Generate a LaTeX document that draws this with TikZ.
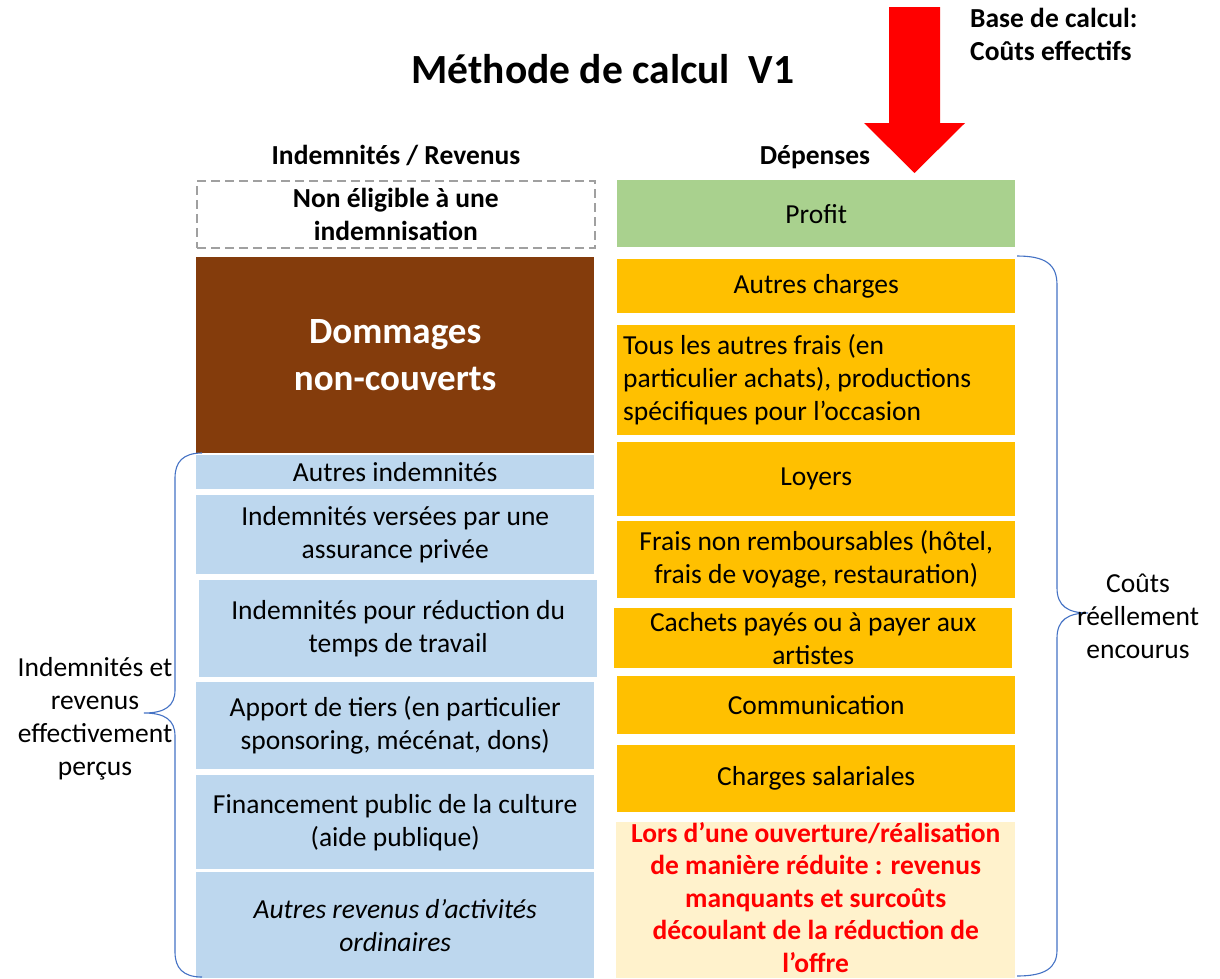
\documentclass[tikz,border=0pt]{standalone}
\usepackage{fontspec}
\setmainfont{Carlito}
\definecolor{cblue}{HTML}{BDD7EE}
\definecolor{corange}{HTML}{FFC000}
\definecolor{cgreen}{HTML}{A9D18E}
\definecolor{clight}{HTML}{FFF2CC}
\definecolor{cbrown}{HTML}{843C0C}
\definecolor{cbrace}{HTML}{4472C4}
\definecolor{cdash}{HTML}{A0A0A0}
\definecolor{cred}{HTML}{FF0000}
\newcommand\bodyfont{\fontsize{27.5}{33}\selectfont}
\newcommand\redfont{\fontsize{27.5}{32.5}\selectfont\bfseries}
\newcommand\titlefont{\fontsize{41.5}{49}\selectfont\bfseries}
\newcommand\bigfont{\fontsize{37}{47}\selectfont\bfseries}
\begin{document}
\begin{tikzpicture}[x=1pt,y=-1pt,
  box/.style={inner sep=0pt, anchor=north west, minimum width=398pt, align=center, font=\bodyfont, text=black},
  bluebox/.style={box, fill=cblue},
  orangebox/.style={box, fill=corange},
  label/.style={inner sep=0pt, align=center, font=\bodyfont, text=black},
  bracepath/.style={draw=cbrace, line width=1.1pt},
]
\useasboundingbox (0,0) rectangle (1220,978);

% title and headers
\node[inner sep=0pt, anchor=base, font=\titlefont] (title) at (603,83) {Méthode de calcul\ \ V1};
\node[inner sep=0pt, anchor=base, font=\bodyfont\bfseries] (hleft) at (396,164) {Indemnités / Revenus};
\node[inner sep=0pt, anchor=base, font=\bodyfont\bfseries] (hright) at (815,164) {Dépenses};
\node[inner sep=0pt, anchor=base west, align=left, font=\bodyfont\bfseries] (base) at (970,27) {Base de calcul:};
\node[inner sep=0pt, anchor=base west, align=left, font=\bodyfont\bfseries] (base2) at (970,60) {Coûts effectifs};

% red arrow
\fill[cred] (889,7) -- (940,7) -- (940,123) -- (965,123) -- (914.5,173) -- (864,123) -- (889,123) -- cycle;

% left column
\node[box, draw=cdash, line width=1.6pt, dash pattern=on 9pt off 5pt, minimum height=67pt, font=\bodyfont\bfseries] (ne) at (196,180) {Non éligible à une\\indemnisation};
\node[box, fill=cbrown, minimum height=196pt, font=\bigfont, text=white] (dm) at (196,257) {Dommages\\non-couverts};
\node[bluebox, minimum height=34pt] (ai) at (196,455) {Autres indemnités};
\node[bluebox, minimum height=79pt] (ap) at (196,495) {Indemnités versées par une\\assurance privée};
\node[bluebox, minimum height=97pt] (rt) at (199,580) {Indemnités pour réduction du\\temps de travail};
\node[bluebox, minimum height=87pt] (at) at (196,682) {Apport de tiers (en particulier\\sponsoring, mécénat, dons)};
\node[bluebox, minimum height=94pt] (fp) at (196,775) {Financement public de la culture\\(aide publique)};
\node[bluebox, minimum height=106pt, font=\bodyfont\itshape] (ar) at (196,872) {Autres revenus d’activités\\ordinaires};

% right column
\node[box, fill=cgreen, minimum height=67pt] (pr) at (617,180) {Profit};
\node[orangebox, minimum height=54pt] (ac) at (617,259) {Autres charges};
\node[orangebox, minimum height=110pt] (tf) at (617,325) {};
\node[label, anchor=west, align=left] (tft) at (623,380) {Tous les autres frais (en\\particulier achats), productions\\spécifiques pour l'occasion};
\node[orangebox, minimum height=74pt] (lo) at (617,442) {Loyers};
\node[orangebox, minimum height=77pt] (fn) at (617,521) {Frais non remboursables (hôtel,\\frais de voyage, restauration)};
\node[orangebox, minimum height=60pt] (ca) at (614,608) {Cachets payés ou à payer aux\\artistes};
\node[orangebox, minimum height=58pt] (co) at (617,676) {Communication};
\node[orangebox, minimum height=67pt] (cs) at (617,745) {Charges salariales};
\node[box, fill=clight, minimum height=156pt, minimum width=399pt] (lr) at (616,822) {};
\node[label, font=\redfont, text=cred] (lrt) at ([yshift=3pt]lr.center) {Lors d’une ouverture/réalisation\\de manière réduite : revenus\\manquants et surcoûts\\découlant de la réduction de\\l’offre};

% left brace
\coordinate (lbt) at (202,453);
\coordinate (lbm) at (144,713);
\coordinate (lbb) at (202,977);
\draw[bracepath] (lbt) .. controls (183,453) and (175,462) .. (175,478) -- (175,690)
  .. controls (175,706) and (165,713) .. (lbm)
  .. controls (165,713) and (175,720) .. (175,736) -- (175,952)
  .. controls (175,968) and (183,977) .. (lbb);
\node[label] (lbl) at (95,719) {Indemnités et\\revenus\\effectivement\\perçus};

% right brace
\coordinate (rbt) at (1017,256);
\coordinate (rbm) at (1088,613);
\coordinate (rbb) at (1017,976);
\draw[bracepath] (rbt) .. controls (1045,256) and (1057,264) .. (1057,285) -- (1057,588)
  .. controls (1057,606) and (1068,613) .. (rbm)
  .. controls (1068,613) and (1057,620) .. (1057,638) -- (1057,950)
  .. controls (1057,968) and (1045,976) .. (rbb);
\node[label] (rbl) at (1138,616) {Coûts\\réellement\\encourus};
\end{tikzpicture}
\end{document}
